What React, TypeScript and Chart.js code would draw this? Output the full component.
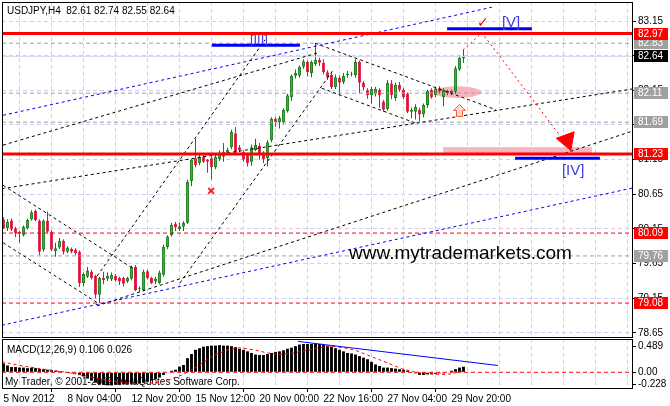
import React, { useEffect, useRef } from 'react';
import { Chart, registerables } from 'chart.js';
Chart.register(...registerables);

// ---------------- data ----------------
const opens = [
  80.29, 80.16, 80.27, 80.16, 80.11, 80.06, 80.16, 80.29, 80.41, 80.27,
  79.85, 80.27, 80.11, 79.83, 79.88, 79.98, 79.82, 79.86, 79.85, 79.82,
  79.37, 79.46, 79.53, 79.47, 79.20, 79.44, 79.43, 79.42, 79.47, 79.44,
  79.44, 79.39, 79.43, 79.60, 79.28, 79.27, 79.54, 79.44, 79.39, 79.37,
  79.49, 79.89, 80.06, 80.22, 80.15, 80.18, 80.24, 80.84, 81.17, 81.10,
  81.19, 81.15, 81.17, 81.04, 81.16, 81.26, 81.25, 81.33, 81.53, 81.33,
  81.26, 81.22, 81.12, 81.29, 81.35, 81.25, 81.17, 81.43, 81.74, 81.69,
  81.69, 81.85, 82.05, 82.36, 82.36, 82.49, 82.56, 82.40, 82.53, 82.59,
  82.55, 82.41, 82.37, 82.20, 82.33, 82.27, 82.37, 82.38, 82.37, 82.56,
  82.26, 82.15, 82.08, 82.10, 82.16, 81.99, 81.88, 82.25, 82.04, 82.23,
  82.16, 82.10, 81.84, 81.84, 81.87, 81.80, 81.94, 82.16, 82.08, 82.18,
  82.05, 82.14, 82.11, 82.13, 82.45, 82.61,
];
const highs = [
  80.32, 80.29, 80.30, 80.18, 80.12, 80.20, 80.30, 80.42, 80.43, 80.29,
  80.29, 80.40, 80.13, 79.95, 80.02, 80.00, 79.90, 79.88, 79.87, 79.84,
  79.52, 79.60, 79.56, 79.49, 79.46, 79.53, 79.52, 79.52, 79.50, 79.46,
  79.46, 79.46, 79.62, 79.63, 79.32, 79.56, 79.56, 79.46, 79.46, 79.55,
  79.92, 80.06, 80.24, 80.25, 80.24, 80.26, 80.86, 81.16, 81.45, 81.22,
  81.22, 81.16, 81.20, 81.22, 81.28, 81.39, 81.32, 81.58, 81.62, 81.36,
  81.28, 81.25, 81.37, 81.45, 81.39, 81.27, 81.43, 81.76, 81.76, 81.78,
  81.89, 82.10, 82.38, 82.45, 82.51, 82.60, 82.58, 82.58, 82.83, 82.62,
  82.60, 82.44, 82.40, 82.38, 82.36, 82.40, 82.43, 82.42, 82.60, 82.58,
  82.28, 82.18, 82.20, 82.20, 82.18, 82.01, 82.30, 82.30, 82.26, 82.27,
  82.18, 82.12, 81.90, 81.95, 81.90, 81.96, 82.16, 82.18, 82.20, 82.21,
  82.18, 82.16, 82.16, 82.50, 82.65, 82.74,
];
const lows = [
  80.15, 80.12, 80.12, 80.03, 79.95, 80.04, 80.14, 80.27, 80.26, 79.77,
  79.82, 80.09, 79.83, 79.75, 79.86, 79.78, 79.80, 79.80, 79.77, 79.31,
  79.32, 79.44, 79.42, 79.15, 79.08, 79.35, 79.40, 79.40, 79.39, 79.34,
  79.32, 79.37, 79.41, 79.25, 79.24, 79.25, 79.42, 79.35, 79.35, 79.35,
  79.46, 79.86, 80.04, 80.12, 80.12, 80.12, 80.22, 80.77, 81.04, 81.07,
  81.10, 80.96, 80.86, 81.01, 81.13, 81.12, 81.22, 81.30, 81.22, 81.26,
  81.12, 81.05, 81.06, 81.27, 81.15, 81.10, 81.05, 81.40, 81.62, 81.60,
  81.66, 81.83, 82.00, 82.32, 82.33, 82.46, 82.35, 82.34, 82.50, 82.50,
  82.38, 82.30, 82.17, 82.17, 82.08, 82.24, 82.33, 82.35, 82.33, 82.10,
  82.15, 82.03, 81.96, 82.06, 81.90, 81.84, 81.86, 82.02, 82.00, 82.13,
  82.02, 81.82, 81.75, 81.73, 81.70, 81.76, 81.90, 82.03, 82.05, 82.10,
  81.92, 82.08, 82.08, 82.10, 82.43, 82.55,
];
const closes = [
  80.16, 80.25, 80.14, 80.09, 80.08, 80.18, 80.28, 80.39, 80.28, 79.82,
  80.27, 80.11, 79.85, 79.87, 79.98, 79.82, 79.88, 79.82, 79.80, 79.37,
  79.50, 79.55, 79.44, 79.20, 79.44, 79.41, 79.47, 79.49, 79.41, 79.39,
  79.36, 79.44, 79.60, 79.27, 79.29, 79.53, 79.44, 79.37, 79.43, 79.52,
  79.89, 80.04, 80.21, 80.17, 80.19, 80.24, 80.83, 81.15, 81.07, 81.19,
  81.12, 81.12, 81.04, 81.19, 81.25, 81.19, 81.29, 81.55, 81.25, 81.29,
  81.15, 81.10, 81.33, 81.36, 81.22, 81.16, 81.40, 81.74, 81.69, 81.75,
  81.87, 82.08, 82.36, 82.40, 82.49, 82.57, 82.41, 82.56, 82.59, 82.55,
  82.41, 82.34, 82.20, 82.34, 82.26, 82.36, 82.39, 82.39, 82.56, 82.26,
  82.19, 82.08, 82.17, 82.17, 82.08, 81.87, 82.26, 82.08, 82.23, 82.16,
  82.05, 81.84, 81.87, 81.91, 81.80, 81.94, 82.14, 82.05, 82.18, 82.13,
  82.16, 82.11, 82.14, 82.47, 82.62, 82.64,
];

const macdHist = [
  0.17, 0.13, 0.10, 0.10, 0.09, 0.09, 0.08, 0.09, 0.08, 0.06,
  0.06, 0.05, 0.04, 0.03, 0.02, 0.00, -0.01, -0.02, -0.02, -0.05,
  -0.08, -0.12, -0.16, -0.20, -0.23, -0.24, -0.25, -0.25, -0.24, -0.24,
  -0.23, -0.23, -0.22, -0.22, -0.21, -0.20, -0.18, -0.16, -0.13, -0.10,
  -0.05, 0.01, 0.03, 0.05, 0.11, 0.14, 0.27, 0.35, 0.43, 0.46,
  0.49, 0.50, 0.51, 0.51, 0.52, 0.51, 0.51, 0.50, 0.48, 0.45,
  0.43, 0.40, 0.37, 0.34, 0.33, 0.33, 0.35, 0.37, 0.39, 0.40,
  0.42, 0.45, 0.47, 0.50, 0.53, 0.54, 0.54, 0.54, 0.54, 0.54,
  0.53, 0.51, 0.49, 0.46, 0.43, 0.40, 0.37, 0.36, 0.34, 0.31,
  0.28, 0.25, 0.20, 0.15, 0.12, 0.09, 0.09, 0.08, 0.07, 0.06,
  0.05, 0.03, 0.00, -0.02, -0.05, -0.05, -0.04, -0.03, -0.03, -0.02,
  -0.02, 0.01, 0.03, 0.06, 0.09, 0.106,
];
const signalBars = [-0.4, 4, 10, 15, 20, 25, 30, 35, 40, 45, 49, 52.5, 56, 59, 62.5, 66, 69, 72.5, 76, 79, 82, 85, 88, 91, 95, 99.5, 103, 106, 109.5, 112, 115];
const signalValues = [0.20, 0.13, 0.06, 0.01, -0.06, -0.14, -0.20, -0.22, -0.18, -0.04, 0.14, 0.32, 0.43, 0.47, 0.43, 0.37, 0.34, 0.37, 0.42, 0.47, 0.50, 0.47, 0.42, 0.33, 0.21, 0.07, 0.0, -0.03, -0.04, -0.03, 0.026];
const macdTrend = [[73.6, 0.59], [123.6, 0.13]];
const macdTicks = [0.489, 0, -0.228];

const timeLabels = ['5 Nov 2012', '8 Nov 04:00', '12 Nov 20:00', '15 Nov 12:00', '20 Nov 00:00', '22 Nov 16:00', '27 Nov 04:00', '29 Nov 20:00'];
const timeLabelBars = [0, 16, 32, 48, 64, 80, 96, 112];
const gridBars = [0, 8, 16, 24, 32, 40, 48, 56, 64, 72, 80, 88, 96, 104, 112, 120, 128, 136, 144, 152];
const priceTicks = [83.15, 82.65, 82.15, 81.65, 81.15, 80.65, 80.15, 79.65, 79.15, 78.65];

const redLevels = [82.97, 81.23];
const redDashedLevels = [80.09, 79.08];
const grayLevels = [82.83, 82.11, 81.69, 79.76];
const bidPrice = 82.64;

const blackTrendLines = [
  [[-0.4, 80.73], [157.2, 82.17]],
  [[-0.1, 81.36], [79.1, 82.70]],
  [[23.4, 79.04], [157.2, 81.56]],
  [[-0.1, 80.78], [32.9, 79.56]],
  [[-0.1, 79.95], [23.6, 79.08]],
  [[23.4, 79.47], [65.4, 82.88]],
  [[44.1, 79.37], [82.4, 82.44]],
  [[77.9, 82.83], [123.1, 81.87]],
  [[79.6, 82.18], [102.9, 81.68]],
];
const blueTrendLines = [
  [[-0.1, 81.79], [122.1, 83.35]],
  [[-0.4, 78.76], [157.2, 80.74]],
];
const waveNames = ['[III]', '[V]', '[IV]'];
const waveSegments = [[[52.1, 82.80], [74.1, 82.80]], [[110.9, 83.04], [132.1, 83.04]], [[127.9, 81.17], [149.1, 81.17]]];
const waveTextAt = [[61.6, 82.82], [124.6, 83.06], [139.6, 80.93]];
const forecastPath = [[114.9, 82.73], [119.6, 82.98], [139.1, 81.50]];
const forecastHead = [140.9, 81.43];
const checkAt = [118.4, 83.06];
const targetZone = [[109.9, 81.23], [147.1, 81.33]];
const pivotZone = [[107.4, 82.04], [119.4, 82.21]];
const upArrowAt = [113.9, 81.87];
const crossAt = [51.9, 80.70];
const siteText = 'www.mytrademarkets.com';
const siteTextAt = [86.4, 79.72];

// ---------------- styles ----------------
const X_MIN = -0.375;
const X_MAX = 157.125;
const GRID = '#CFCFEF';
const FONT = '"Liberation Sans", Arial, sans-serif';
const GREEN_FILL = '#22CC22';
const GREEN_EDGE = '#0F7A0F';
const RED = '#DC143C';
const WAVE_BLUE = '#3A3AE0';

Chart.defaults.font.family = FONT;
Chart.defaults.font.size = 10;
Chart.defaults.color = '#000';

const toPts = (arr: number[][]) => arr.map(([x, y]) => ({ x, y }));
const lineDs = (pts: number[][], color: string, width: number, dash: number[], order = 1) => ({
  type: 'line', data: toPts(pts), borderColor: color, borderWidth: width, borderDash: dash,
  pointRadius: 0, fill: false, tension: 0, order,
});
const hLine = (v: number) => [[X_MIN, v], [X_MAX, v]];

const mainPlugin = {
  id: 'mainDeco',
  beforeDatasetsDraw(chart: any) {
    const { ctx, scales: { x, y } } = chart;
    ctx.save();
    ctx.fillStyle = '#F6B6C0';
    const [[a0, b0], [a1, b1]] = targetZone;
    ctx.fillRect(x.getPixelForValue(a0), y.getPixelForValue(b1), x.getPixelForValue(a1) - x.getPixelForValue(a0), y.getPixelForValue(b0) - y.getPixelForValue(b1));
    const [[c0, d0], [c1, d1]] = pivotZone;
    const px0 = x.getPixelForValue(c0), px1 = x.getPixelForValue(c1);
    const py0 = y.getPixelForValue(d1), py1 = y.getPixelForValue(d0);
    ctx.fillStyle = '#F7B4C0';
    ctx.beginPath();
    ctx.ellipse((px0 + px1) / 2, (py0 + py1) / 2, (px1 - px0) / 2, (py1 - py0) / 2, 0, 0, Math.PI * 2);
    ctx.fill();
    ctx.restore();
  },
  afterDatasetsDraw(chart: any) {
    const { ctx, scales: { x, y } } = chart;
    ctx.save();
    ctx.textBaseline = 'alphabetic';
    ctx.textAlign = 'left';
    // wave labels
    waveNames.forEach((n, i) => {
      ctx.font = (i === 0 ? '13px ' : '15px ') + FONT;
      ctx.fillStyle = WAVE_BLUE;
      ctx.fillText(n, x.getPixelForValue(waveTextAt[i][0]), y.getPixelForValue(waveTextAt[i][1]));
    });
    // check mark
    ctx.font = '14px "DejaVu Sans"';
    ctx.fillStyle = '#FF0000';
    ctx.fillText('\u2713', x.getPixelForValue(checkAt[0]), y.getPixelForValue(checkAt[1]));
    // site text
    ctx.font = '19px ' + FONT;
    ctx.fillStyle = '#000';
    ctx.fillText(siteText, x.getPixelForValue(siteTextAt[0]), y.getPixelForValue(siteTextAt[1]));
    // up arrow
    const cx = Math.round(x.getPixelForValue(upArrowAt[0])) + 0.5;
    const cy = Math.round(y.getPixelForValue(upArrowAt[1])) + 0.5;
    const pts = [[0, -6], [6, 0], [3, 0], [3, 6], [-3, 6], [-3, 0], [-6, 0]];
    ctx.beginPath();
    pts.forEach(([dx, dy], i) => (i ? ctx.lineTo(cx + dx, cy + dy) : ctx.moveTo(cx + dx, cy + dy)));
    ctx.closePath();
    ctx.fillStyle = '#FFD8D8';
    ctx.fill();
    ctx.strokeStyle = '#FF5A28';
    ctx.lineWidth = 1;
    ctx.stroke();
    ctx.restore();
  },
  afterDraw(chart: any) {
    const { ctx, chartArea: a, scales: { y } } = chart;
    ctx.save();
    ctx.fillStyle = '#000';
    ctx.fillRect(a.left, a.top, 1, a.bottom - a.top + 1);
    ctx.fillRect(a.right, a.top, 1, a.bottom - a.top + 1);
    ctx.fillRect(a.left, a.top, a.right - a.left + 1, 1);
    ctx.fillRect(a.left, a.bottom, a.right - a.left + 1, 1);
    // price boxes
    const box = (v: number, bg: string) => {
      const py = Math.round(y.getPixelForValue(v));
      ctx.fillStyle = bg;
      ctx.fillRect(a.right + 2, py - 6, 34, 12);
      ctx.fillStyle = '#fff';
      ctx.font = '10px ' + FONT;
      ctx.textBaseline = 'middle';
      ctx.textAlign = 'left';
      ctx.fillText(v.toFixed(2), a.right + 6, py + 0.5);
    };
    grayLevels.forEach((v) => box(v, '#A0A0A0'));
    redLevels.concat(redDashedLevels).forEach((v) => box(v, '#FF0000'));
    box(bidPrice, '#000');
    // title
    const n = closes.length - 1;
    ctx.fillStyle = '#000';
    ctx.font = '10px ' + FONT;
    ctx.textBaseline = 'middle';
    ctx.fillText(`USDJPY,H4  ${opens[n].toFixed(2)} ${highs[n].toFixed(2)} ${lows[n].toFixed(2)} ${closes[n].toFixed(2)}`, a.left + 5, 11);
    ctx.restore();
  },
};

const macdPlugin = {
  id: 'macdDeco',
  beforeDatasetsDraw(chart: any) {
    const { ctx, chartArea: a } = chart;
    const n = macdHist.length - 1;
    ctx.save();
    ctx.fillStyle = '#000';
    ctx.font = '10px ' + FONT;
    ctx.textBaseline = 'middle';
    ctx.textAlign = 'left';
    ctx.fillText(`MACD(12,26,9) ${macdHist[n].toFixed(3)} ${signalValues[signalValues.length - 1].toFixed(3)}`, a.left + 5, a.top + 11);
    ctx.fillText('My Trader, \u00A9 2001-2012 MetaQuotes Software Corp.', a.left + 3, a.top + 43);
    ctx.restore();
  },
  afterDraw(chart: any) {
    const { ctx, chartArea: a } = chart;
    ctx.save();
    ctx.fillStyle = '#000';
    ctx.fillRect(a.left, a.top, 1, a.bottom - a.top + 1);
    ctx.fillRect(a.right, a.top, 1, a.bottom - a.top + 1);
    ctx.fillRect(a.left, a.top, a.right - a.left + 1, 1);
    ctx.fillRect(a.left, a.bottom, a.right - a.left + 1, 1);
    ctx.restore();
  },
};

export default function App() {
  const mainRef = useRef<HTMLCanvasElement>(null);
  const macdRef = useRef<HTMLCanvasElement>(null);

  useEffect(() => {
    const idx = opens.map((_, i) => i);
    const up = idx.map((i) => closes[i] >= opens[i]);
    const bodies = idx.map((i) => ({ x: i, y: [Math.min(opens[i], closes[i]), Math.max(opens[i], closes[i])] }));
    const wicks = idx.map((i) => ({ x: i, y: [lows[i], highs[i]] }));

    const datasets: any[] = [];
    // overlays (lower order = drawn on top)
    redLevels.forEach((v) => datasets.push(lineDs(hLine(v), '#FF0000', 3, [], 1)));
    waveSegments.forEach((s) => datasets.push(lineDs(s, '#0000FF', 3, [], 1)));
    datasets.push(lineDs(forecastPath, '#FF0000', 1, [2, 3], 1));
    datasets.push({
      type: 'line', data: toPts([forecastHead]), showLine: false, pointStyle: 'triangle', pointRadius: 11,
      rotation: 160, pointBackgroundColor: '#FF0000', pointBorderColor: '#FF0000', pointBorderWidth: 1, order: 1,
    });
    datasets.push({
      type: 'line', data: toPts([crossAt]), showLine: false, pointStyle: 'crossRot', pointRadius: 4,
      pointBorderColor: '#FF2020', pointBorderWidth: 2, order: 1,
    });
    blackTrendLines.forEach((l) => datasets.push(lineDs(l, '#000', 1, [3, 3], 2)));
    blueTrendLines.forEach((l) => datasets.push(lineDs(l, '#0000FF', 1, [3, 3], 2)));
    redDashedLevels.forEach((v) => datasets.push(lineDs(hLine(v), '#FF0000', 1, [4, 3], 3)));
    grayLevels.forEach((v) => datasets.push(lineDs(hLine(v), '#A0A0A0', 1, [4, 3], 3)));
    datasets.push(lineDs(hLine(bidPrice), '#D4D4EC', 1, [], 4));
    datasets.push({
      type: 'bar', data: bodies, grouped: false, maxBarThickness: 3, minBarLength: 1,
      backgroundColor: up.map((u) => (u ? GREEN_FILL : RED)),
      borderColor: up.map((u) => (u ? GREEN_EDGE : RED)),
      borderWidth: 1, borderSkipped: false, inflateAmount: 0, order: 9,
    });
    datasets.push({
      type: 'bar', data: wicks, grouped: false, maxBarThickness: 1,
      backgroundColor: up.map((u) => (u ? GREEN_EDGE : RED)),
      borderWidth: 0, inflateAmount: 0, order: 10,
    });

    const common: any = {
      responsive: false, animation: false, devicePixelRatio: 1, events: [],
      plugins: { legend: { display: false }, tooltip: { enabled: false } },
    };

    const main = new Chart(mainRef.current as HTMLCanvasElement, {
      type: 'bar',
      data: { datasets },
      options: {
        ...common,
        layout: { padding: { left: 2, top: 2, right: 0, bottom: 1 }, autoPadding: false },
        scales: {
          x: {
            type: 'linear', min: X_MIN, max: X_MAX, offset: false,
            afterBuildTicks: (s: any) => { s.ticks = gridBars.map((v) => ({ value: v })); },
            ticks: { display: false },
            grid: { color: GRID, drawTicks: false },
            border: { display: false, dash: [4, 3] },
            afterFit: (s: any) => { s.height = 0; s.paddingLeft = 0; s.paddingRight = 0; },
          },
          y: {
            type: 'linear', position: 'right', min: 78.59, max: 83.425,
            afterBuildTicks: (s: any) => { s.ticks = priceTicks.map((v) => ({ value: v })); },
            ticks: { callback: (v: any) => Number(v).toFixed(2), padding: 2, color: '#000', font: { size: 10 } },
            grid: { color: GRID, tickColor: '#000', tickLength: 4, tickBorderDash: [] },
            border: { display: false, dash: [4, 3] },
            afterFit: (s: any) => { s.width = 38; s.paddingTop = 0; s.paddingBottom = 0; },
          },
        },
      } as any,
      plugins: [mainPlugin],
    } as any);

    const sigPts = signalBars.map((b, i) => [b, signalValues[i]]);
    const macd = new Chart(macdRef.current as HTMLCanvasElement, {
      type: 'bar',
      data: {
        datasets: [
          lineDs(macdTrend, '#0000FF', 1, [], 1),
          lineDs(sigPts, '#FF0000', 1, [3, 3], 2),
          lineDs(hLine(0), '#FF0000', 1, [4, 3], 3),
          {
            type: 'bar', data: idx.map((i) => ({ x: i, y: macdHist[i] })), grouped: false, maxBarThickness: 3,
            backgroundColor: '#000', borderWidth: 0, inflateAmount: 0, order: 9,
          },
        ],
      },
      options: {
        ...common,
        layout: { padding: { left: 2, top: 1, right: 0, bottom: 0 }, autoPadding: false },
        scales: {
          x: {
            type: 'linear', min: X_MIN, max: X_MAX, offset: false,
            afterBuildTicks: (s: any) => { s.ticks = gridBars.map((v) => ({ value: v })); },
            ticks: {
              autoSkip: false, maxRotation: 0, minRotation: 0, align: 'start', padding: 1, color: '#000', font: { size: 10 },
              callback: (v: any) => { const k = timeLabelBars.indexOf(Number(v)); return k >= 0 ? timeLabels[k] : ''; },
            },
            grid: {
              color: GRID, tickLength: 4, tickBorderDash: [],
              tickColor: (c: any) => (c.tick && timeLabelBars.includes(c.tick.value) ? '#000' : 'rgba(0,0,0,0)'),
            },
            border: { display: false, dash: [4, 3] },
            afterFit: (s: any) => { s.height = 18; s.paddingLeft = 0; s.paddingRight = 0; },
          },
          y: {
            type: 'linear', position: 'right', min: -0.30, max: 0.636,
            afterBuildTicks: (s: any) => { s.ticks = macdTicks.map((v) => ({ value: v })); },
            ticks: { callback: (v: any) => (Number(v) === 0 ? '0.00' : String(v)), padding: 2, color: '#000', font: { size: 10 } },
            grid: { drawOnChartArea: false, tickLength: 4, tickColor: '#000' },
            border: { display: false },
            afterFit: (s: any) => { s.width = 38; s.paddingTop = 0; s.paddingBottom = 0; },
          },
        },
      } as any,
      plugins: [macdPlugin],
    } as any);

    return () => { main.destroy(); macd.destroy(); };
  }, []);

  return (
    <div style={{ position: 'fixed', left: 0, top: 0, width: 670, height: 406, background: '#fff', overflow: 'hidden' }}>
      <canvas ref={mainRef} width={670} height={338} style={{ position: 'absolute', left: 0, top: 0, width: 670, height: 338 }} />
      <canvas ref={macdRef} width={670} height={68} style={{ position: 'absolute', left: 0, top: 338, width: 670, height: 68 }} />
    </div>
  );
}
